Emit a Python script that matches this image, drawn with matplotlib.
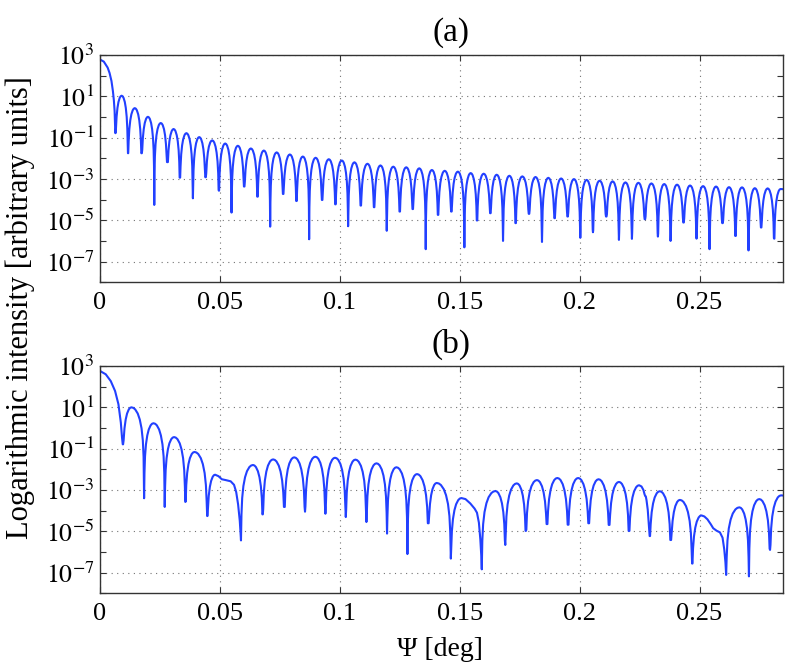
import numpy as np
import matplotlib
matplotlib.use('Agg')
import matplotlib.pyplot as plt
from matplotlib.ticker import FixedLocator, FixedFormatter, NullFormatter

plt.rcParams['font.family'] = ['Liberation Serif', 'DejaVu Serif']
plt.rcParams['mathtext.fontset'] = 'stix'

# ---------------- data (log10 of intensity) ----------------
# panel (a): main lobe trace
a_head_x = [0.0, 0.0016, 0.0032, 0.0040, 0.0048, 0.0054, 0.0058, 0.0061]
a_head_log = [2.78, 2.68, 2.39, 2.13, 1.74, 1.25, 0.80, 0.30]
# panel (a): nulls (position, depth)
a_null_x = [0.0064, 0.01167, 0.01736, 0.02264, 0.02806, 0.03333, 0.03875, 0.04403,
            0.04958, 0.05486, 0.06014, 0.06569, 0.07097, 0.07639, 0.08194, 0.08722,
            0.09264, 0.09819, 0.10347, 0.10875, 0.11431, 0.11958, 0.12500, 0.13042,
            0.13583, 0.14097, 0.14653, 0.15194, 0.15722, 0.16278, 0.16806, 0.17333,
            0.17889, 0.18431, 0.18958, 0.19500, 0.20028, 0.20556, 0.21111, 0.21639,
            0.22181, 0.22722, 0.23264, 0.23792, 0.24333, 0.24875, 0.25417, 0.25958,
            0.26500, 0.27042, 0.27569, 0.28111]
a_null_log = [-0.78, -1.75, -1.75, -4.25, -2.18, -2.93, -3.93, -2.91, -3.56, -4.62,
              -3.36, -3.85, -5.30, -3.72, -4.06, -5.91, -4.01, -4.22, -5.28, -4.28,
              -4.36, -5.50, -4.57, -4.45, -6.39, -4.73, -4.57, -6.30, -5.00, -4.65,
              -5.99, -5.13, -4.68, -6.04, -4.89, -4.81, -5.84, -5.57, -4.81, -5.94,
              -5.89, -4.94, -5.78, -5.99, -5.10, -5.88, -6.39, -5.13, -5.75, -6.45,
              -5.34, -5.88]
# panel (a): side-lobe peak heights (lobe after each null)
a_peak_log = [1.03, 0.43, 0.01, -0.29, -0.58, -0.78, -0.97, -1.13, -1.28, -1.39,
              -1.52, -1.62, -1.71, -1.81, -1.91, -1.97, -2.04, -2.10, -2.19, -2.26,
              -2.34, -2.40, -2.43, -2.48, -2.56, -2.60, -2.64, -2.71, -2.74, -2.79,
              -2.84, -2.87, -2.90, -2.94, -2.97, -3.00, -3.04, -3.08, -3.11, -3.16,
              -3.18, -3.21, -3.24, -3.27, -3.31, -3.34, -3.36, -3.39, -3.40, -3.44,
              -3.45, -3.48]
a_last_peak_x = 0.2838
a_tail_x = [0.285]
a_tail_log = [-3.49]

# panel (b): main lobe trace
b_head_x = [0.0, 0.0024, 0.0045, 0.0063, 0.0077, 0.0087, 0.0092]
b_head_log = [2.76, 2.60, 2.27, 1.79, 1.15, 0.26, -0.47]
b_null_x = [0.0095, 0.0184, 0.0270, 0.0356, 0.0447, 0.0588, 0.0679, 0.0769, 0.0855,
            0.0940, 0.1025, 0.1111, 0.1197, 0.1282, 0.1369, 0.1463, 0.1592, 0.1690,
            0.1776, 0.1864, 0.1952, 0.2038, 0.2123, 0.2206, 0.2292, 0.2380, 0.2469,
            0.2611, 0.2706, 0.2794]
b_null_log = [-0.79, -3.40, -3.82, -3.58, -4.26, -5.44, -4.18, -3.82, -4.05, -4.15,
              -4.31, -4.55, -5.11, -6.10, -4.61, -6.32, -6.84, -5.66, -4.98, -4.65,
              -4.68, -4.61, -4.69, -4.98, -5.23, -5.42, -6.56, -7.11, -7.18, -5.90]
b_peak_x = [0.0131, 0.0223, 0.0309, 0.0394, 0.0480, 0.0638, 0.0722, 0.0810, 0.0898,
            0.0980, 0.1065, 0.1153, 0.1236, 0.1322, 0.1404, 0.1507, 0.1649, 0.1738,
            0.1822, 0.1907, 0.1994, 0.2079, 0.2164, 0.2248, 0.2334, 0.2418, 0.2508,
            0.2666, 0.2749, 0.2840]
b_peak_log = [1.00, 0.23, -0.44, -1.16, -2.26, -1.79, -1.52, -1.42, -1.39, -1.44,
              -1.53, -1.71, -1.90, -2.23, -2.66, -3.39, -3.05, -2.68, -2.52, -2.42,
              -2.42, -2.48, -2.61, -2.77, -3.06, -3.48, -4.23, -3.84, -3.44, -3.26]
# panel (b): irregular falling sides traced point by point
b_shoulder1_x = [0.0494, 0.0508, 0.0524, 0.0545, 0.0559, 0.0568, 0.0576, 0.0583]
b_shoulder1_log = [-2.33, -2.48, -2.52, -2.58, -2.75, -3.10, -3.70, -4.50]
b_shoulder2_x = [0.1524, 0.1544, 0.1562, 0.1572, 0.1580, 0.1586, 0.1590]
b_shoulder2_log = [-3.44, -3.65, -3.90, -4.10, -4.58, -5.39, -6.20]
b_notch_x = [0.2258, 0.2266, 0.2271, 0.2274, 0.2276, 0.2279, 0.2284, 0.2288]
b_notch_log = [-2.83, -3.00, -3.22, -3.30, -3.31, -3.50, -3.95, -4.60]
b_shoulder3_x = [0.2520, 0.2533, 0.2547, 0.2557, 0.2571, 0.2585, 0.2596, 0.2603, 0.2608]
b_shoulder3_log = [-4.28, -4.42, -4.66, -4.85, -4.97, -5.05, -5.31, -5.87, -6.50]
b_tail_x = [0.285]
b_tail_log = [-3.27]

# typical side-lobe profile:
# fraction of the null-to-peak distance, decades below the peak
lobe_h = [0.04, 0.10, 0.20, 0.34, 0.50, 0.70, 0.85]
lobe_drop = [2.40, 1.60, 1.02, 0.59, 0.30, 0.10, 0.025]

# axis ticks
x_ticks = [0, 0.05, 0.1, 0.15, 0.2, 0.25]
x_ticklabels = ['0', '0.05', '0.1', '0.15', '0.2', '0.25']
y_ticks = [1e3, 1e1, 1e-1, 1e-3, 1e-5, 1e-7]
y_ticklabels = [r'$10^{3}$', r'$10^{1}$', r'$10^{-1}$', r'$10^{-3}$', r'$10^{-5}$', r'$10^{-7}$']
y_minor = [1e2, 1e0, 1e-2, 1e-4, 1e-6, 1e-8]


def trace(head_x, head_log, null_x, null_log, peak_x, peak_log, special, tail_x, tail_log):
    xs = list(head_x)
    ys = list(head_log)
    n = len(null_x)
    for i in range(n):
        x0, y0 = null_x[i], null_log[i]
        xs.append(x0)
        ys.append(y0)
        px, pl = peak_x[i], peak_log[i]
        for h, d in zip(lobe_h, lobe_drop):
            xs.append(x0 + h * (px - x0))
            ys.append(max(pl - d, y0))
        xs.append(px)
        ys.append(pl)
        if i in special:
            sx, sy = special[i]
            xs += list(sx)
            ys += list(sy)
        elif i + 1 < n:
            x1, y1 = null_x[i + 1], null_log[i + 1]
            for h, d in zip(lobe_h[::-1], lobe_drop[::-1]):
                xs.append(x1 - h * (x1 - px))
                ys.append(max(pl - d, y1))
    xs += list(tail_x)
    ys += list(tail_log)
    return np.array(xs), 10.0 ** np.array(ys)


a_peak_x = [(a_null_x[i] + a_null_x[i + 1]) / 2 for i in range(len(a_null_x) - 1)] + [a_last_peak_x]
xa, ya = trace(a_head_x, a_head_log, a_null_x, a_null_log, a_peak_x, a_peak_log, {},
               a_tail_x, a_tail_log)
b_special = {4: (b_shoulder1_x, b_shoulder1_log),
             15: (b_shoulder2_x, b_shoulder2_log),
             23: (b_notch_x, b_notch_log),
             26: (b_shoulder3_x, b_shoulder3_log)}
xb, yb = trace(b_head_x, b_head_log, b_null_x, b_null_log, b_peak_x, b_peak_log, b_special,
               b_tail_x, b_tail_log)

fig = plt.figure(figsize=(7.89, 6.68), dpi=100)
ax_a = fig.add_axes([0.1267, 0.5771, 0.8663, 0.3406])
ax_b = fig.add_axes([0.1267, 0.1118, 0.8663, 0.3403])

line_color = '#2240ff'
for ax, (x, y) in ((ax_a, (xa, ya)), (ax_b, (xb, yb))):
    ax.plot(x, y, color=line_color, lw=1.5)
    ax.set_yscale('log')
    ax.set_xlim(0, 0.285)
    ax.set_ylim(1e-8, 1e3)
    ax.xaxis.set_major_locator(FixedLocator(x_ticks))
    ax.xaxis.set_major_formatter(FixedFormatter(x_ticklabels))
    ax.yaxis.set_major_locator(FixedLocator(y_ticks))
    ax.yaxis.set_major_formatter(FixedFormatter(y_ticklabels))
    ax.yaxis.set_minor_locator(FixedLocator(y_minor))
    ax.yaxis.set_minor_formatter(NullFormatter())
    ax.tick_params(which='both', direction='in', top=True, right=True, length=4.5,
                   width=0.8, color='0.2')
    ax.tick_params(axis='x', pad=7, labelsize=19)
    ax.tick_params(axis='y', pad=4, labelsize=18.5)
    ax.grid(True, which='major', color='0.45', linestyle=(0, (1, 4)), linewidth=0.8)
    for sp in ax.spines.values():
        sp.set_linewidth(1.0)
        sp.set_color('0.2')

fig.text(0.5716, 1 - 33 / 668, '(a)', ha='center', va='center', fontsize=24)
fig.text(0.5716, 1 - 344 / 668, '(b)', ha='center', va='center', fontsize=24)
fig.text(20 / 789, 1 - 308 / 668, 'Logarithmic intensity [arbitrary units]', rotation=90,
         ha='center', va='center', fontsize=22)
fig.text(0.557, 1 - 650 / 668, 'Ψ [deg]', ha='center', va='center', fontsize=20)

fig.savefig('out.png', dpi=100)
